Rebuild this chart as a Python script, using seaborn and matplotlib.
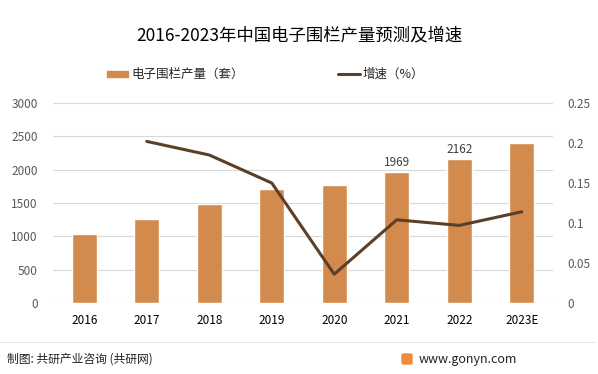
import matplotlib
matplotlib.use("Agg")
import matplotlib.pyplot as plt
import matplotlib.patches as mpatches
from matplotlib.lines import Line2D
import pandas as pd
import seaborn as sns

# ─── Data ─────────────────────────────────────────────────────────────────────
years = ["2016", "2017", "2018", "2019", "2020", "2021", "2022", "2023E"]
output = [1040, 1260, 1485, 1710, 1770, 1969, 2162, 2400]
growth = [None, 0.202, 0.185, 0.150, 0.036, 0.104, 0.097, 0.114]
labelled = {"2021": 1969, "2022": 2162}

BAR = "#D38B4D"
LINE = "#5C3F27"
GRID = "#D9D9D9"
TICK = "#595959"

sns.set_theme(style="white")
plt.rcParams["font.family"] = ["Noto Sans CJK SC", "DejaVu Sans"]

df = pd.DataFrame({"year": years, "output": output, "growth": growth})

fig = plt.figure(figsize=(5.98, 3.74), dpi=100)
ax = fig.add_axes([53 / 598, 1 - 303 / 374, 500 / 598, 200 / 374])

sns.barplot(data=df, x="year", y="output", color=BAR, width=0.4,
            saturation=1, ax=ax, zorder=2)
ax.set_ylim(0, 3000)
ax.set_yticks(range(0, 3001, 500))
ax.yaxis.grid(True, color=GRID, linewidth=0.8, zorder=0)
ax.set_axisbelow(True)
for s in ax.spines.values():
    s.set_visible(False)
ax.set_xlabel("")
ax.set_ylabel("")
ax.tick_params(axis="y", labelsize=8.5, colors=TICK, length=0, pad=11)
ax.tick_params(axis="x", labelsize=8.5, colors="black", length=0, pad=8)

for i, y in enumerate(years):
    if y in labelled:
        ax.text(i, output[i] + 40, f"{labelled[y]}", ha="center", va="bottom",
                fontsize=8.5, color="#404040")

ax2 = ax.twinx()
sns.lineplot(x=list(range(len(years))), y=growth, color=LINE, linewidth=2.2,
             ax=ax2, zorder=3)
ax2.set_ylim(0, 0.25)
ax2.set_yticks([0, 0.05, 0.1, 0.15, 0.2, 0.25])
ax2.set_yticklabels(["0", "0.05", "0.1", "0.15", "0.2", "0.25"])
ax2.tick_params(axis="y", labelsize=8.5, colors=TICK, length=0, pad=10)
for s in ax2.spines.values():
    s.set_visible(False)
ax2.set_ylabel("")
ax.set_xlim(-0.5, len(years) - 0.5)

# title
fig.text(0.5, 1 - 35 / 374, "2016-2023年中国电子围栏产量预测及增速",
         ha="center", va="center", fontsize=12.5, color="black")

# legend
fig.patches.append(mpatches.Rectangle((107 / 598, 1 - 77 / 374), 21 / 598, 6 / 374,
                                      transform=fig.transFigure, color=BAR))
fig.text(131 / 598, 1 - 74 / 374, "电子围栏产量（套）", va="center", fontsize=9)
fig.lines.append(Line2D([338 / 598, 360 / 598], [1 - 74 / 374, 1 - 74 / 374],
                        transform=fig.transFigure, color=LINE, linewidth=2.2))
fig.text(363 / 598, 1 - 74 / 374, "增速（%）", va="center", fontsize=9)

# footer
fig.lines.append(Line2D([0, 595 / 598], [1 - 342 / 374, 1 - 342 / 374],
                        transform=fig.transFigure, color="#E6E6E6", linewidth=0.8))
fig.text(7 / 598, 1 - 359 / 374, "制图: 共研产业咨询 (共研网)", va="center",
         fontsize=8.5, color="#222222")
fig.patches.append(mpatches.FancyBboxPatch((402 / 598, 1 - 364 / 374), 10 / 598, 10 / 374,
                                           boxstyle="round,pad=0,rounding_size=0.003",
                                           transform=fig.transFigure, color="#F08A3C"))
fig.text(419 / 598, 1 - 359 / 374, "www.gonyn.com", va="center",
         fontsize=9, color="#222222")

fig.savefig("out.png", dpi=100)
